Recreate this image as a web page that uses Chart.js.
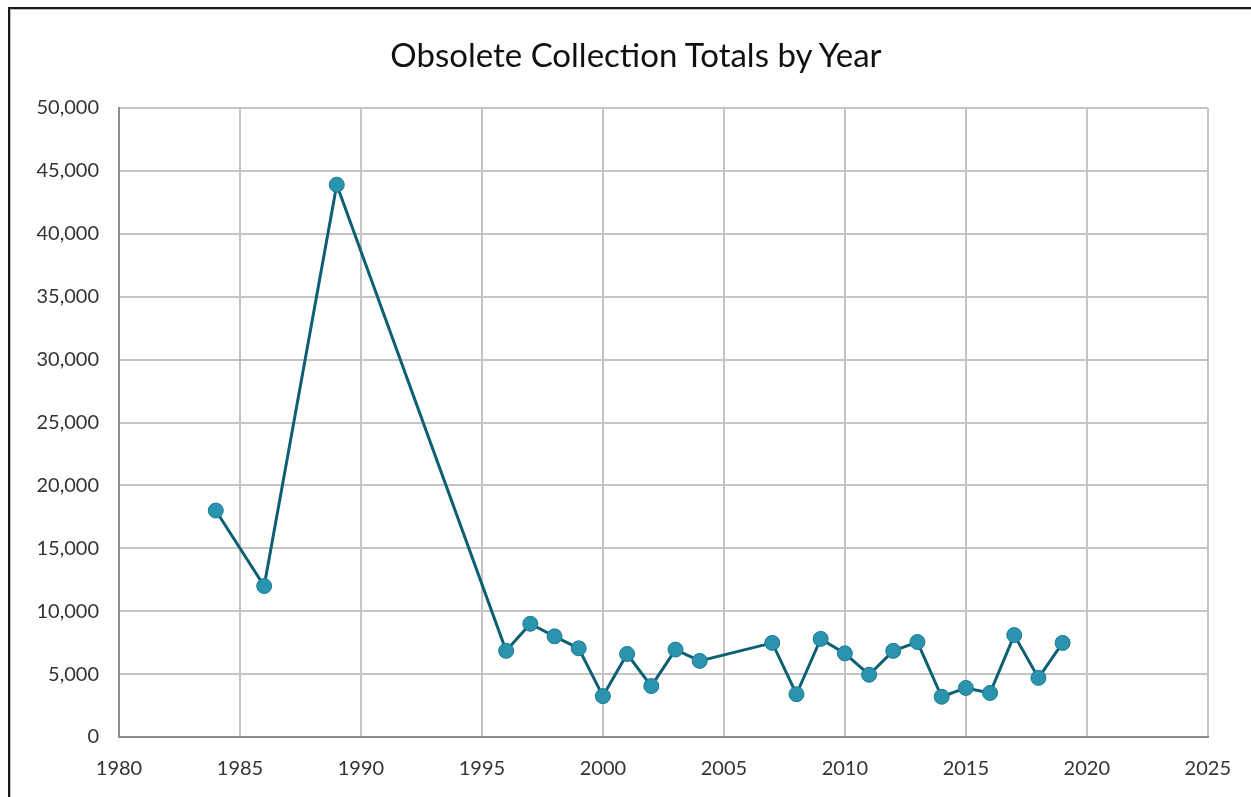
<!DOCTYPE html>
<html>
<head>
<meta charset="utf-8">
<script src="https://cdn.jsdelivr.net/npm/chart.js@4/dist/chart.umd.min.js"></script>
<style>
  html, body { margin: 0; padding: 0; background: #fff; overflow: hidden; }
  #frame { position: absolute; left: 8px; top: 7px; width: 1300px; height: 900px;
           border-top: 2px solid #1a1a1a; border-left: 2px solid #1a1a1a;
           box-shadow: inset 1px 1px 0 #bbb; }
  #wrap { position: absolute; left: 0; top: 0; width: 1251px; height: 797px; }
  #title { position: absolute; left: 0; width: 1272px; top: 34px; text-align: center;
           font: 33px Lato, "Open Sans", sans-serif; color: #111; line-height: 40px; }
</style>
</head>
<body>
<div id="frame"></div>
<div id="wrap"><canvas id="c" width="1251" height="797"></canvas></div>
<div id="title"></div>
<script>
// Years and totals
const years = [1984, 1986, 1989, 1996, 1997, 1998, 1999, 2000, 2001, 2002, 2003, 2004,
               2007, 2008, 2009, 2010, 2011, 2012, 2013, 2014, 2015, 2016, 2017, 2018, 2019];
const totals = [18000, 12000, 43900, 6850, 9000, 8000, 7050, 3250, 6600, 4050, 6950, 6050,
                7480, 3400, 7800, 6650, 4950, 6850, 7550, 3200, 3900, 3500, 8100, 4700, 7480];
const chartTitle = 'Obsolete Collection Totals by Year';

document.getElementById('title').textContent = chartTitle;

const points = years.map((y, i) => ({ x: y, y: totals[i] }));
const fontFam = 'Lato, "Open Sans", sans-serif';

new Chart(document.getElementById('c'), {
  type: 'line',
  data: {
    datasets: [{
      data: points,
      borderColor: '#0d5f74',
      borderWidth: 3,
      pointBackgroundColor: '#2a93ad',
      pointBorderColor: '#1a7a92',
      pointBorderWidth: 1,
      pointRadius: 7.5,
      tension: 0,
      fill: false
    }]
  },
  options: {
    responsive: false,
    animation: false,
    layout: { padding: { left: 10, right: 42, top: 108, bottom: 0 } },
    plugins: {
      legend: { display: false },
      tooltip: { enabled: false },
      title: { display: false }
    },
    scales: {
      x: {
        type: 'linear',
        min: 1980, max: 2025,
        ticks: { stepSize: 5, color: '#333', padding: 20,
                 font: { family: fontFam, size: 20 },
                 callback: v => String(v) },
        grid: { color: '#c4c4c4', lineWidth: 2, drawTicks: false },
        border: { color: '#8e8e8e', width: 2 },
        afterFit: s => { s.height = 60; }
      },
      y: {
        min: 0, max: 50000,
        ticks: { stepSize: 5000, color: '#333', padding: 20,
                 font: { family: fontFam, size: 20 },
                 callback: v => v.toLocaleString('en-US') },
        grid: { color: '#c4c4c4', lineWidth: 2, drawTicks: false },
        border: { color: '#8e8e8e', width: 2 },
        afterFit: s => { s.width = 109; }
      }
    }
  }
});
</script>
</body>
</html>
